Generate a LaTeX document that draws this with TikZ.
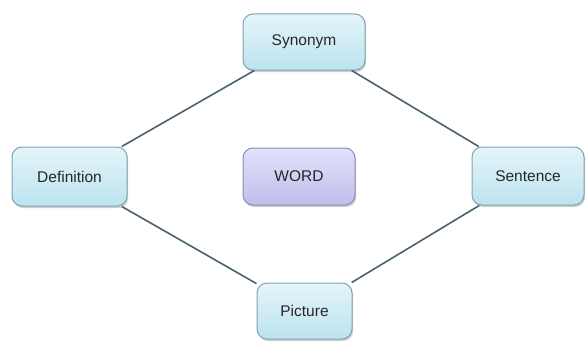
\documentclass[tikz,border=0pt]{standalone}
\usepackage{fontspec}
\setmainfont{Liberation Sans}
\usetikzlibrary{shadows}
\definecolor{boxtop}{HTML}{E4F5FA}
\definecolor{boxbot}{HTML}{BCE3EF}
\definecolor{boxline}{HTML}{7FA3B0}
\definecolor{wordtop}{HTML}{E2E2FA}
\definecolor{wordbot}{HTML}{BEBEEC}
\definecolor{wordline}{HTML}{8C8CB4}
\definecolor{edgecol}{HTML}{4A6270}
\tikzset{
  concept/.style={draw=boxline, line width=1pt, rounded corners=10pt,
    top color=boxtop, bottom color=boxbot, inner sep=0pt,
    font=\fontsize{15.5}{18}\selectfont, text=black!85,
    drop shadow={shadow xshift=1.2pt, shadow yshift=-2pt, opacity=0.3, fill=black!60}},
  wordbox/.style={concept, draw=wordline, top color=wordtop, bottom color=wordbot},
  link/.style={draw=edgecol, line width=1.6pt}
}
\begin{document}
\begin{tikzpicture}[x=1pt,y=1pt]
\path[fill=white] (0,0) rectangle (586,341);
\useasboundingbox (0,0) rectangle (586,341);
\node[concept, minimum width=122pt, minimum height=56pt] (syn) at (304,299) {Synonym};
\node[wordbox, minimum width=112pt, minimum height=57pt] (word) at (299,164.5) {WORD};
\node[concept, minimum width=115pt, minimum height=59pt] (def) at (69.5,164.5) {Definition};
\node[concept, minimum width=112pt, minimum height=58pt] (sen) at (528,165) {Sentence};
\node[concept, minimum width=95pt, minimum height=56pt] (pic) at (304.5,30) {Picture};
\draw[link] (def) -- (syn);
\draw[link] (syn) -- (sen);
\draw[link] (def) -- (pic);
\draw[link] (pic) -- (sen);
\end{tikzpicture}
\end{document}
